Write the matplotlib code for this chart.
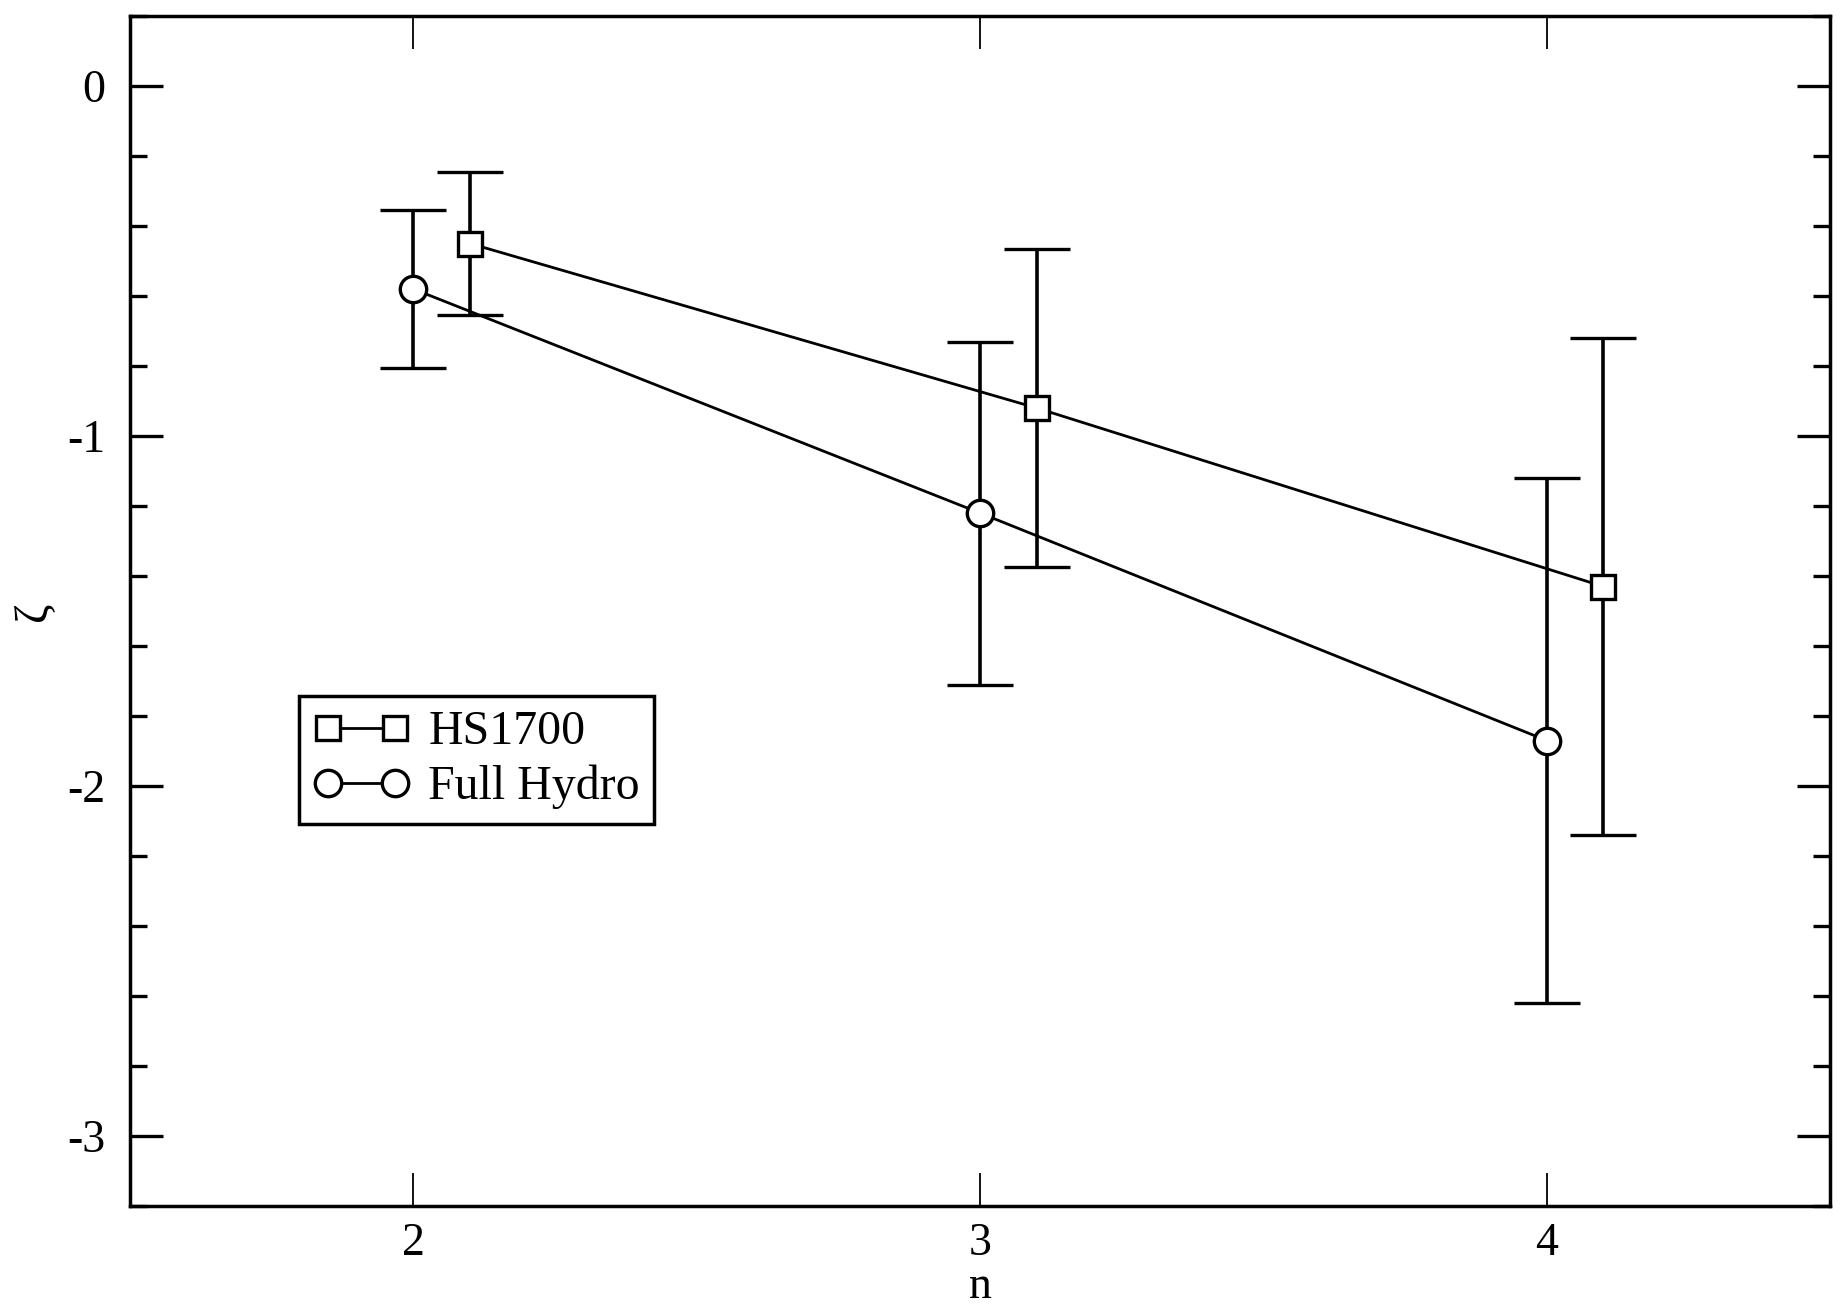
import numpy as np
import matplotlib
matplotlib.use("Agg")
import matplotlib.pyplot as plt
from matplotlib.ticker import MultipleLocator
from matplotlib.lines import Line2D

plt.rcParams['font.family'] = ['Liberation Serif', 'DejaVu Serif']
plt.rcParams['axes.unicode_minus'] = False

# data
n_hs = [2.1, 3.1, 4.1]
zeta_hs = [-0.45, -0.92, -1.43]
err_hs = [0.205, 0.455, 0.71]

n_full = [2.0, 3.0, 4.0]
zeta_full = [-0.58, -1.22, -1.87]
err_full = [0.227, 0.49, 0.75]

labels = ['HS1700', 'Full Hydro']

fig = plt.figure(figsize=(18.45, 13.06), dpi=100)
ax = fig.add_axes([130/1845, 100/1306, 1700/1845, 1190/1306])

ax.errorbar(n_hs, zeta_hs, yerr=err_hs, color='black', lw=2.0, elinewidth=2.6,
            capsize=24, capthick=2.6, marker='s', ms=17, mfc='white', mec='black',
            mew=2.4, zorder=3)
ax.errorbar(n_full, zeta_full, yerr=err_full, color='black', lw=2.0, elinewidth=2.6,
            capsize=24, capthick=2.6, marker='o', ms=19, mfc='white', mec='black',
            mew=2.4, zorder=3)

ax.set_xlim(1.5, 4.5)
ax.set_ylim(-3.2, 0.2)
ax.xaxis.set_major_locator(MultipleLocator(1))
ax.yaxis.set_major_locator(MultipleLocator(1))
ax.yaxis.set_minor_locator(MultipleLocator(0.2))

for s in ax.spines.values():
    s.set_linewidth(2.5)

ax.tick_params(axis='y', which='major', direction='in', length=24, width=2.4,
               labelsize=33, pad=18, left=True, right=True)
ax.tick_params(axis='y', which='minor', direction='in', length=12, width=2.4,
               left=True, right=True)
ax.tick_params(axis='x', which='major', direction='in', length=24, width=1.3,
               labelsize=33, pad=12, top=True, bottom=True)

ax.set_xlabel('n', fontsize=33, labelpad=0)
ax.set_ylabel('ζ', fontsize=34, labelpad=8)

# legend: two markers joined by a line, no error bars
handles = [
    Line2D([], [], color='black', lw=2.0, marker='s', ms=17, mfc='white', mec='black', mew=2.4),
    Line2D([], [], color='black', lw=2.0, marker='o', ms=19, mfc='white', mec='black', mew=2.4),
]
leg = ax.legend(handles, labels, loc='upper left', bbox_to_anchor=(0.0994, 0.4286),
                fontsize=34.5, numpoints=2, frameon=True, fancybox=False,
                edgecolor='black', framealpha=1, handlelength=2.0,
                handletextpad=0.4, borderpad=0.3, labelspacing=0.22,
                borderaxespad=0)
leg.get_frame().set_linewidth(2.5)

fig.savefig('out.png', dpi=100)
